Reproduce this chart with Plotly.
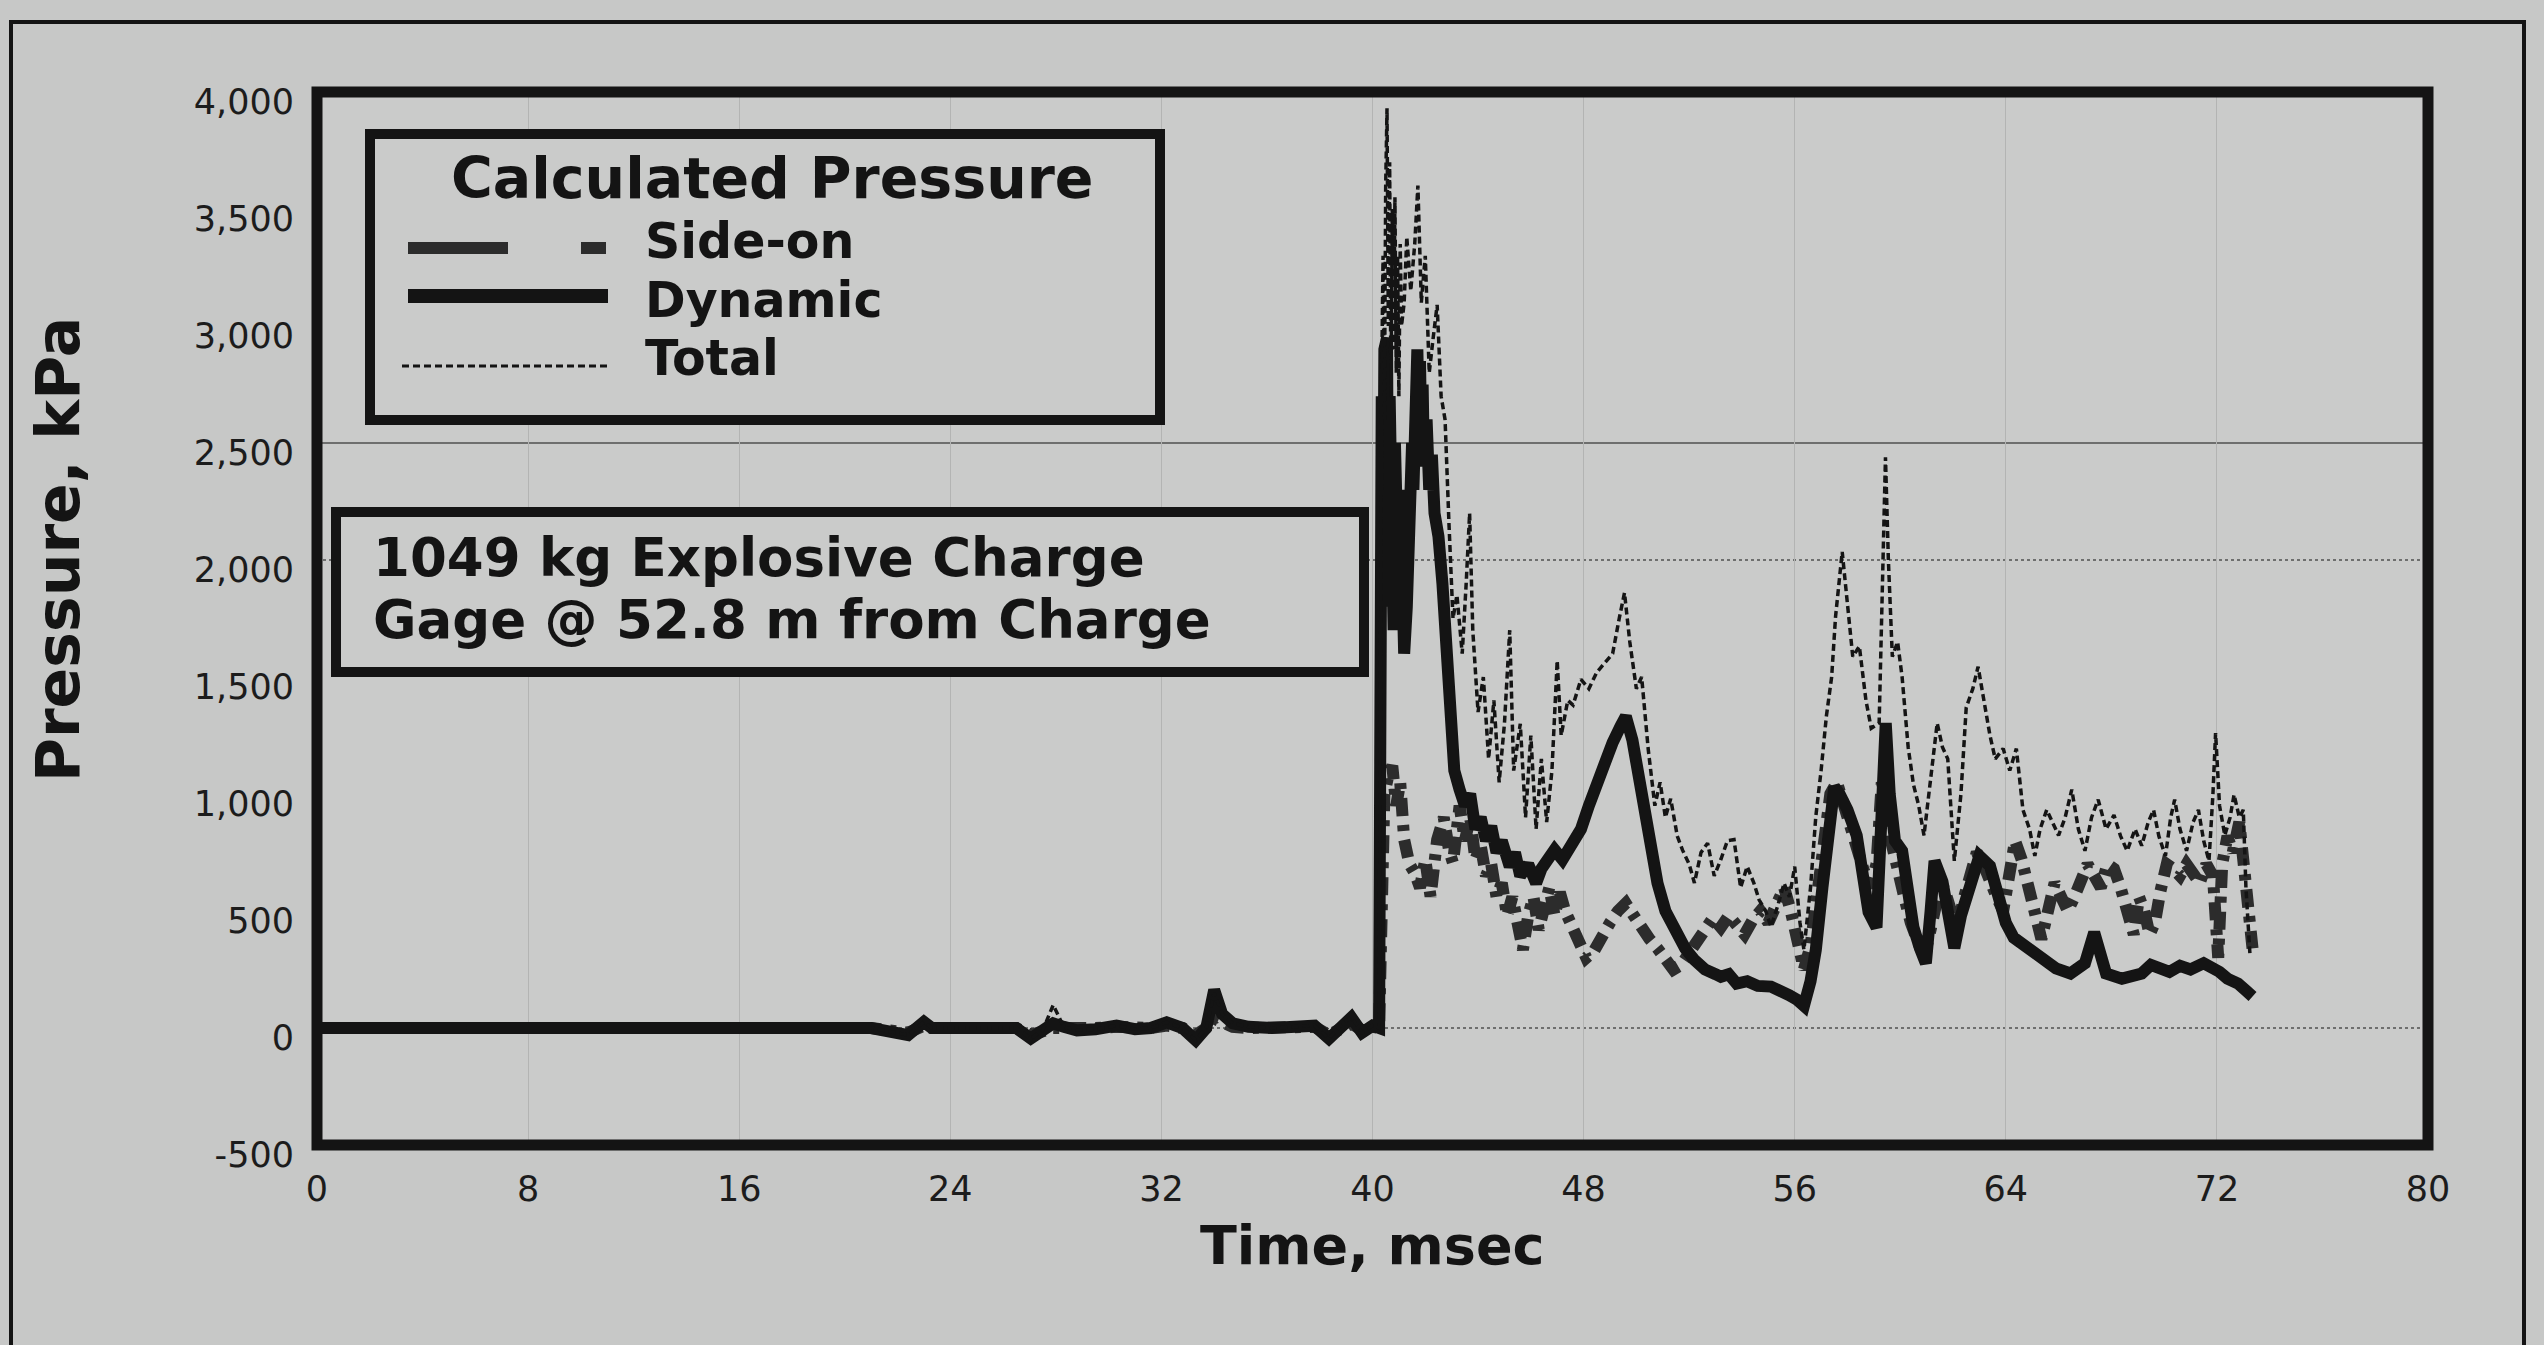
import plotly.graph_objects as go

# ---------------- data (time in msec, pressure in kPa) ----------------
PRE_T = [0.0, 8.0, 16.0, 21.0, 22.4, 22.8, 23.0, 23.3, 25.0, 26.5,
         27.05, 27.5, 27.9, 28.3, 28.8, 29.5, 30.3, 31.0, 31.6, 32.2,
         32.8, 33.3, 33.7, 34.0, 34.3, 34.7, 35.3, 36.2, 37.0, 37.8,
         38.35, 38.9, 39.2, 39.6, 40.0, 40.25]
DYN_PRE = [0, 0, 0, 0, -30, 10, 26, 0, 0, 0,
           -45, -10, 20, 5, -10, -5, 10, -5, 0, 24,
           0, -52, 0, 163, 60, 20, 5, 0, 5, 10,
           -45, 24, 45, -20, 10, 0]
TOT_PRE = [0, 0, 0, 0, -30, 10, 26, 0, 0, 0,
           -45, -10, 98, 5, -10, -5, 10, -5, 0, 24,
           0, -52, 0, 150, 60, 20, 5, 0, 5, 10,
           -45, 24, 45, -20, 10, 0]
SIDE_PRE = [0, 0, 0, 0, -20, 0, 10, 0, 0, 0,
            -30, -10, 0, 0, -5, 0, 5, 0, 0, 10,
            0, -30, 0, 40, 20, 5, 0, 0, 0, 5,
            -30, 10, 20, -10, 5, 0]

DYN_T = [40.3, 40.35, 40.4, 40.45, 40.5, 40.55, 40.6, 40.65, 40.7, 40.75,
         40.8, 40.85, 40.9, 40.95, 41.0, 41.05, 41.1, 41.15, 41.2, 41.3,
         41.4, 41.5, 41.55, 41.6, 41.65, 41.7, 41.75, 41.8, 41.85, 41.9,
         41.95, 42.05, 42.15, 42.25, 42.35, 42.5, 42.65,
         42.8, 42.95, 43.1, 43.3, 43.5, 43.7, 43.9, 44.1, 44.3, 44.5,
         44.7, 44.9, 45.2, 45.4, 45.6, 45.9, 46.2, 46.4, 46.6, 46.9,
         47.2, 47.6, 47.9, 48.2, 48.5, 48.8, 49.1, 49.4, 49.6, 49.85,
         50.05, 50.3, 50.55, 50.8, 51.1, 51.5, 51.85, 52.2, 52.6, 53.0,
         53.2, 53.5, 53.8, 54.2, 54.6, 55.1, 55.5, 55.8, 56.1, 56.35,
         56.6, 56.8, 57.05, 57.3, 57.5, 57.7, 58.0, 58.35, 58.6, 58.8,
         59.1, 59.3, 59.45, 59.6, 59.8, 60.07, 60.3, 60.5, 60.75, 60.97,
         61.15, 61.3, 61.6, 61.85, 62.05, 62.3, 62.6, 63.0, 63.4, 63.75,
         64.0, 64.3, 64.8, 65.4, 65.9, 66.45, 67.0, 67.35, 67.6, 67.8,
         68.4, 69.15, 69.5, 69.85, 70.2, 70.6, 71.0, 71.5, 71.85, 72.1,
         72.4, 72.8, 73.1, 73.35]
DYN_P = [1900, 2700, 1900, 2900, 2100, 2950, 1800, 2700, 2000, 2600,
         1700, 2500, 1900, 2400, 1800, 2300, 1700, 2000, 1600, 1800,
         2300, 2500, 2300, 2800, 2500, 2900, 2600, 2850, 2500, 2750,
         2400, 2600, 2300, 2450, 2200, 2100, 1900,
         1600, 1250, 1100, 1019, 950, 1000, 850, 900, 800, 862,
         750, 800, 690, 750, 650, 700, 619, 680, 720, 762,
         720, 790, 850, 950, 1050, 1150, 1220, 1290, 1332, 1230,
         1100, 976, 800, 619, 500, 405, 340, 291, 250, 230,
         219, 230, 190, 200, 180, 177, 160, 140, 120, 95,
         200, 334, 600, 900, 1030, 1000, 932, 823, 650, 495,
         430, 1100, 1303, 1000, 800, 757, 600, 430, 340, 277,
         500, 714, 626, 450, 342, 480, 605, 735, 692, 539,
         450, 386, 342, 299, 255, 233, 277, 408, 300, 233,
         211, 233, 270, 255, 240, 266, 250, 277, 260, 240,
         211, 190, 160, 135]

TOT_T = [40.35, 40.4, 40.45, 40.5, 40.55, 40.6, 40.65, 40.7, 40.75, 40.8,
         40.85, 40.9, 40.95, 41.0, 41.05, 41.1,
         41.2, 41.3, 41.45, 41.6, 41.72, 41.85, 42.0, 42.15, 42.3, 42.45,
         42.6, 42.75, 42.9, 43.05, 43.2, 43.4, 43.55, 43.68, 43.8, 44.0,
         44.2, 44.4, 44.6, 44.8, 45.0, 45.2, 45.35, 45.6, 45.8, 46.0,
         46.2, 46.4, 46.6, 46.8, 47.0, 47.15, 47.4, 47.6, 47.9, 48.2,
         48.5, 48.8, 49.1, 49.35, 49.55, 49.75, 50.0, 50.2, 50.45, 50.7,
         50.9, 51.1, 51.3, 51.55, 51.75, 52.0, 52.2, 52.45, 52.7, 52.95,
         53.2, 53.45, 53.7, 53.95, 54.2, 54.45, 54.65, 54.9, 55.1, 55.35,
         55.6, 55.8, 56.0, 56.2, 56.35, 56.6, 56.8, 57.0, 57.2, 57.4,
         57.55, 57.8, 58.0, 58.2, 58.45, 58.7, 58.9, 59.2, 59.44, 59.55,
         59.7, 59.9, 60.07, 60.3, 60.5, 60.7, 60.9, 61.15, 61.4, 61.6,
         61.8, 62.05, 62.3, 62.5, 62.75, 62.95, 63.2, 63.4, 63.6, 63.9,
         64.15, 64.4, 64.65, 64.9, 65.1, 65.3, 65.55, 65.8, 66.0, 66.25,
         66.5, 66.75, 67.0, 67.25, 67.5, 67.8, 68.1, 68.35, 68.6, 68.9,
         69.15, 69.4, 69.6, 69.8, 70.05, 70.25, 70.4, 70.6, 70.85, 71.1,
         71.3, 71.5, 71.7, 71.85, 71.95, 72.1, 72.3, 72.5, 72.65, 72.85,
         73.0, 73.1, 73.25]
TOT_P = [2800, 3300, 2600, 3600, 3930, 3000, 3700, 2700, 3500, 2900,
         3550, 2800, 3300, 2700, 3350, 3000,
         3100, 3380, 3150, 3350, 3600, 3100, 3300, 2800, 2950, 3090,
         2700, 2600, 2150, 1750, 1850, 1600, 1900, 2200, 1700, 1350,
         1500, 1150, 1400, 1050, 1300, 1700, 1100, 1300, 900, 1250,
         850, 1150, 880, 1100, 1570, 1250, 1400, 1380, 1490, 1450,
         1520, 1560, 1600, 1750, 1860, 1650, 1450, 1500, 1190, 950,
         1050, 900, 980, 820, 760, 700, 620, 750, 790, 650,
         720, 800, 805, 600, 690, 620, 548, 500, 433, 520,
         619, 560, 690, 450, 334, 600, 904, 1100, 1332, 1500,
         1760, 2035, 1800, 1587, 1631, 1400, 1281, 1303, 2439, 2000,
         1587, 1650, 1500, 1200, 1041, 950, 823, 1050, 1303, 1200,
         1150, 714, 1000, 1369, 1450, 1544, 1369, 1250, 1150, 1194,
         1100, 1194, 932, 850, 735, 850, 932, 870, 823, 900,
         1019, 850, 757, 900, 976, 850, 910, 820, 757, 850,
         779, 880, 932, 820, 735, 900, 976, 850, 757, 880,
         932, 800, 714, 1000, 1260, 950, 823, 900, 997, 900,
         932, 600, 320]

SIDE_T = [40.32, 40.45, 40.6, 40.75, 40.9, 41.05, 41.2, 41.4, 41.6, 41.8,
          42.0, 42.2, 42.45, 42.7, 42.9, 43.05, 43.3, 43.5, 43.7, 43.9,
          44.1, 44.3, 44.5, 44.7, 44.9, 45.1, 45.3, 45.5, 45.7, 45.9,
          46.1, 46.3, 46.5, 46.7, 46.9, 47.1, 47.3, 47.5, 47.8, 48.1,
          48.4, 48.7, 49.0, 49.3, 49.6, 49.9, 50.2, 50.5, 50.8, 51.1,
          51.4, 51.7, 52.0, 52.3, 52.6, 52.9, 53.2, 53.5, 53.8, 54.1,
          54.4, 54.7, 55.0, 55.3, 55.6, 55.85, 56.1, 56.35, 56.6, 56.85,
          57.1, 57.35, 57.6, 57.85, 58.1, 58.35, 58.6, 58.85, 59.1, 59.3,
          59.45, 59.65, 59.9, 60.15, 60.4, 60.65, 60.9, 61.15, 61.4, 61.65,
          61.9, 62.15, 62.4, 62.65, 62.9, 63.15, 63.4, 63.65, 63.9, 64.15,
          64.35, 64.6, 64.85, 65.1, 65.35, 65.6, 65.85, 66.1, 66.35, 66.6,
          66.85, 67.1, 67.35, 67.6, 67.85, 68.1, 68.35, 68.6, 68.85, 69.05,
          69.25, 69.45, 69.65, 69.85, 70.1, 70.35, 70.6, 70.85, 71.1, 71.35,
          71.6, 71.85, 72.05, 72.2, 72.4, 72.6, 72.85, 73.05, 73.2, 73.35]
SIDE_P = [500, 1000, 1080, 1120, 950, 1050, 805, 700, 662, 600,
          720, 562, 805, 900, 760, 705, 950, 800, 900, 720,
          780, 650, 700, 560, 620, 480, 560, 420, 334, 480,
          560, 420, 520, 600, 480, 580, 500, 450, 350, 300,
          330, 405, 450, 500, 533, 480, 419, 380, 340, 300,
          250, 270, 320, 360, 410, 470, 430, 480, 440, 400,
          460, 500, 450, 540, 600, 500, 380, 250, 350, 600,
          850, 1000, 1050, 950, 870, 760, 680, 600, 700, 1050,
          1000, 800, 650, 560, 450, 380, 300, 420, 550, 600,
          500, 420, 550, 680, 750, 700, 620, 560, 500, 650,
          800, 720, 600, 450, 380, 500, 620, 560, 500, 560,
          640, 700, 650, 600, 700, 680, 600, 500, 400, 560,
          500, 400, 450, 580, 700, 680, 650, 700, 660, 620,
          700, 650, 300, 700, 820, 750, 880, 700, 500, 340]

assert len(DYN_T) == len(DYN_P)
assert len(TOT_T) == len(TOT_P)
assert len(SIDE_T) == len(SIDE_P)
assert len(PRE_T) == len(DYN_PRE) == len(TOT_PRE) == len(SIDE_PRE)

X_TICKS = list(range(0, 81, 8))
Y_TICKS = [-500, 0, 500, 1000, 1500, 2000, 2500, 3000, 3500, 4000]
Y_TICK_TEXT = ["-500", "0", "500", "1,000", "1,500", "2,000", "2,500", "3,000", "3,500", "4,000"]
SOLID_GRID = [2500]
DOTTED_GRID = [2000, 0]

LEGEND_TITLE = "Calculated Pressure"
SERIES_NAMES = ["Side-on", "Dynamic", "Total"]
NOTE_LINES = ["1049 kg Explosive Charge", "Gage @ 52.8 m from Charge"]

# ---------------- styling ----------------
W, H = 2544, 1345
PL, PR, PT, PB = 317, 2428, 92, 1145
BG = "#c7c8c7"
PLOT_BG = "#cacbca"
INK = "#141414"
SIDE_INK = "#2c2c2c"
FONT = "DejaVu Sans"

SIDE_DASH = "18px,9px,6px,9px"
TOTAL_DASH = "7px,4px"


def px(x):
    return (x - PL) / (PR - PL)


def py(y):
    return (PB - y) / (PB - PT)


fig = go.Figure()

fig.add_trace(go.Scatter(
    x=PRE_T + SIDE_T, y=SIDE_PRE + SIDE_P, mode="lines", name=SERIES_NAMES[0],
    line=dict(color=SIDE_INK, width=12, dash=SIDE_DASH), showlegend=False))
fig.add_trace(go.Scatter(
    x=PRE_T + DYN_T, y=DYN_PRE + DYN_P, mode="lines", name=SERIES_NAMES[1],
    line=dict(color=INK, width=12), showlegend=False))
fig.add_trace(go.Scatter(
    x=PRE_T + TOT_T, y=TOT_PRE + TOT_P, mode="lines", name=SERIES_NAMES[2],
    line=dict(color=INK, width=3.5, dash=TOTAL_DASH), showlegend=False))

shapes = []
# horizontal reference lines
for v in SOLID_GRID:
    shapes.append(dict(type="line", xref="paper", yref="y", x0=0, x1=1, y0=v, y1=v,
                       line=dict(color="#6e6f6e", width=2), layer="below"))
for v in DOTTED_GRID:
    shapes.append(dict(type="line", xref="paper", yref="y", x0=0, x1=1, y0=v, y1=v,
                       line=dict(color="#6e6f6e", width=2, dash="dot"), layer="below"))

# outer page frame
shapes.append(dict(type="rect", xref="paper", yref="paper",
                   x0=px(11), x1=px(2524), y0=py(1420), y1=py(22),
                   line=dict(color=INK, width=4), fillcolor="rgba(0,0,0,0)", layer="below"))
# plot frame
shapes.append(dict(type="rect", xref="paper", yref="paper", x0=0, x1=1, y0=0, y1=1,
                   line=dict(color=INK, width=11), layer="above"))

# legend box
shapes.append(dict(type="rect", xref="paper", yref="paper",
                   x0=px(370), x1=px(1160), y0=py(420), y1=py(134),
                   line=dict(color=INK, width=10), fillcolor=PLOT_BG, layer="above"))
# legend samples
shapes.append(dict(type="line", xref="paper", yref="paper", x0=px(408), x1=px(508),
                   y0=py(248), y1=py(248), line=dict(color=SIDE_INK, width=12), layer="above"))
shapes.append(dict(type="line", xref="paper", yref="paper", x0=px(581), x1=px(606),
                   y0=py(248), y1=py(248), line=dict(color=SIDE_INK, width=12), layer="above"))
shapes.append(dict(type="line", xref="paper", yref="paper", x0=px(408), x1=px(608),
                   y0=py(296), y1=py(296), line=dict(color=INK, width=14), layer="above"))
shapes.append(dict(type="line", xref="paper", yref="paper", x0=px(402), x1=px(608),
                   y0=py(366), y1=py(366), line=dict(color=INK, width=3, dash=TOTAL_DASH),
                   layer="above"))

# note box
shapes.append(dict(type="rect", xref="paper", yref="paper",
                   x0=px(336), x1=px(1364), y0=py(672), y1=py(512),
                   line=dict(color=INK, width=10), fillcolor=PLOT_BG, layer="above"))

annotations = []


def text(s, x, y, size, xanchor="left", angle=0):
    annotations.append(dict(text="<b>%s</b>" % s, x=px(x), y=py(y), xref="paper", yref="paper",
                            xanchor=xanchor, yanchor="middle", showarrow=False, textangle=angle,
                            borderpad=0,
                            font=dict(family=FONT, size=size, color=INK)))


text(LEGEND_TITLE, 772, 178, 57, xanchor="center")
text(SERIES_NAMES[0], 644, 242, 49)
text(SERIES_NAMES[1], 644, 300, 49)
text(SERIES_NAMES[2], 644, 358, 49)
text(NOTE_LINES[0], 372, 557, 53)
text(NOTE_LINES[1], 372, 620, 53)
text("Time, msec", 1372, 1245, 54, xanchor="center")
text("Pressure, kPa", 58, 550, 60, xanchor="center", angle=-90)

fig.update_layout(
    width=W, height=H, autosize=False,
    margin=dict(l=PL, r=W - PR, t=PT, b=H - PB, pad=0),
    paper_bgcolor=BG, plot_bgcolor=PLOT_BG,
    shapes=shapes, annotations=annotations,
    font=dict(family=FONT, color=INK),
    xaxis=dict(range=[0, 80], tickvals=X_TICKS, ticks="", showline=False, zeroline=False,
               showgrid=True, gridcolor="#b3b4b3", gridwidth=1,
               tickfont=dict(family=FONT, size=35, color="#1c1c1c"), ticklabelstandoff=20),
    yaxis=dict(range=[-500, 4000], tickvals=Y_TICKS, ticktext=Y_TICK_TEXT, ticks="",
               showline=False, zeroline=False, showgrid=False,
               tickfont=dict(family=FONT, size=35, color="#1c1c1c"),
               ticklabelstandoff=22, ticklabelshift=10),
)

fig.write_html("out.html")
